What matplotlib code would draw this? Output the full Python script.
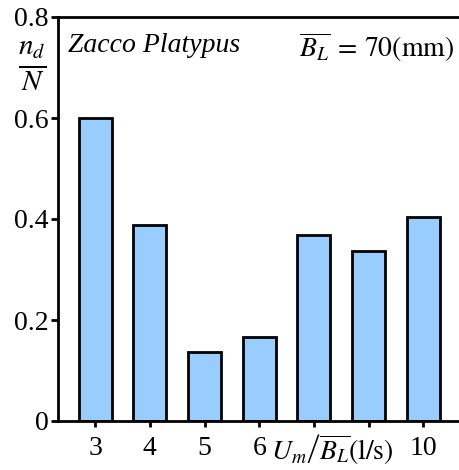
import matplotlib
matplotlib.use("Agg")
import matplotlib.pyplot as plt
import numpy as np

# fraction of fish per flow speed group
speed_labels = ["3", "4", "5", "6", "", "", "10"]
fraction = [0.600, 0.388, 0.137, 0.166, 0.368, 0.337, 0.404]
y_ticks = [0, 0.2, 0.4, 0.6, 0.8]
y_tick_labels = ["0", "0.2", "0.4", "0.6", "0.8"]

plt.rcParams["font.family"] = ["Liberation Serif", "DejaVu Serif"]
plt.rcParams["mathtext.fontset"] = "stix"

W, H = 459, 470
fig = plt.figure(figsize=(W / 100, H / 100), dpi=100)
# axes run past the right edge like in the original figure
ax = fig.add_axes([58 / W, (H - 421) / H, 409 / W, (421 - 17) / H])

x = np.arange(len(fraction))
ax.bar(x, fraction, width=0.6, color="#99ccff", edgecolor="black", linewidth=2, zorder=2)

ax.set_xlim(-0.68, 6.8)
ax.set_ylim(0, 0.8)
ax.set_xticks(x)
ax.set_xticklabels(speed_labels)
ax.set_yticks(y_ticks)
ax.set_yticklabels(y_tick_labels)
ax.tick_params(axis="both", labelsize=20, width=2, length=5, direction="out", pad=2)
ax.tick_params(axis="x", length=4, pad=7)
for s in ax.spines.values():
    s.set_linewidth(2)

ax.text(0.025, 0.93, "Zacco Platypus", transform=ax.transAxes, fontsize=20,
        style="italic", ha="left", va="center")
ax.text(0.59, 0.925, r"$\overline{B_L}\;=\,70\left(\mathrm{mm}\right)$", transform=ax.transAxes,
        fontsize=20, ha="left", va="center")
fig.text(32 / W, 1 - 66 / H, r"$\frac{n_d}{N}$", fontsize=30, ha="center", va="center")
ax.text(4.33, -0.058, r"$U_m\left/\overline{B_L}\right.(\mathrm{l/s})$", fontsize=20,
        ha="center", va="center")

fig.savefig("out.png", dpi=100)
